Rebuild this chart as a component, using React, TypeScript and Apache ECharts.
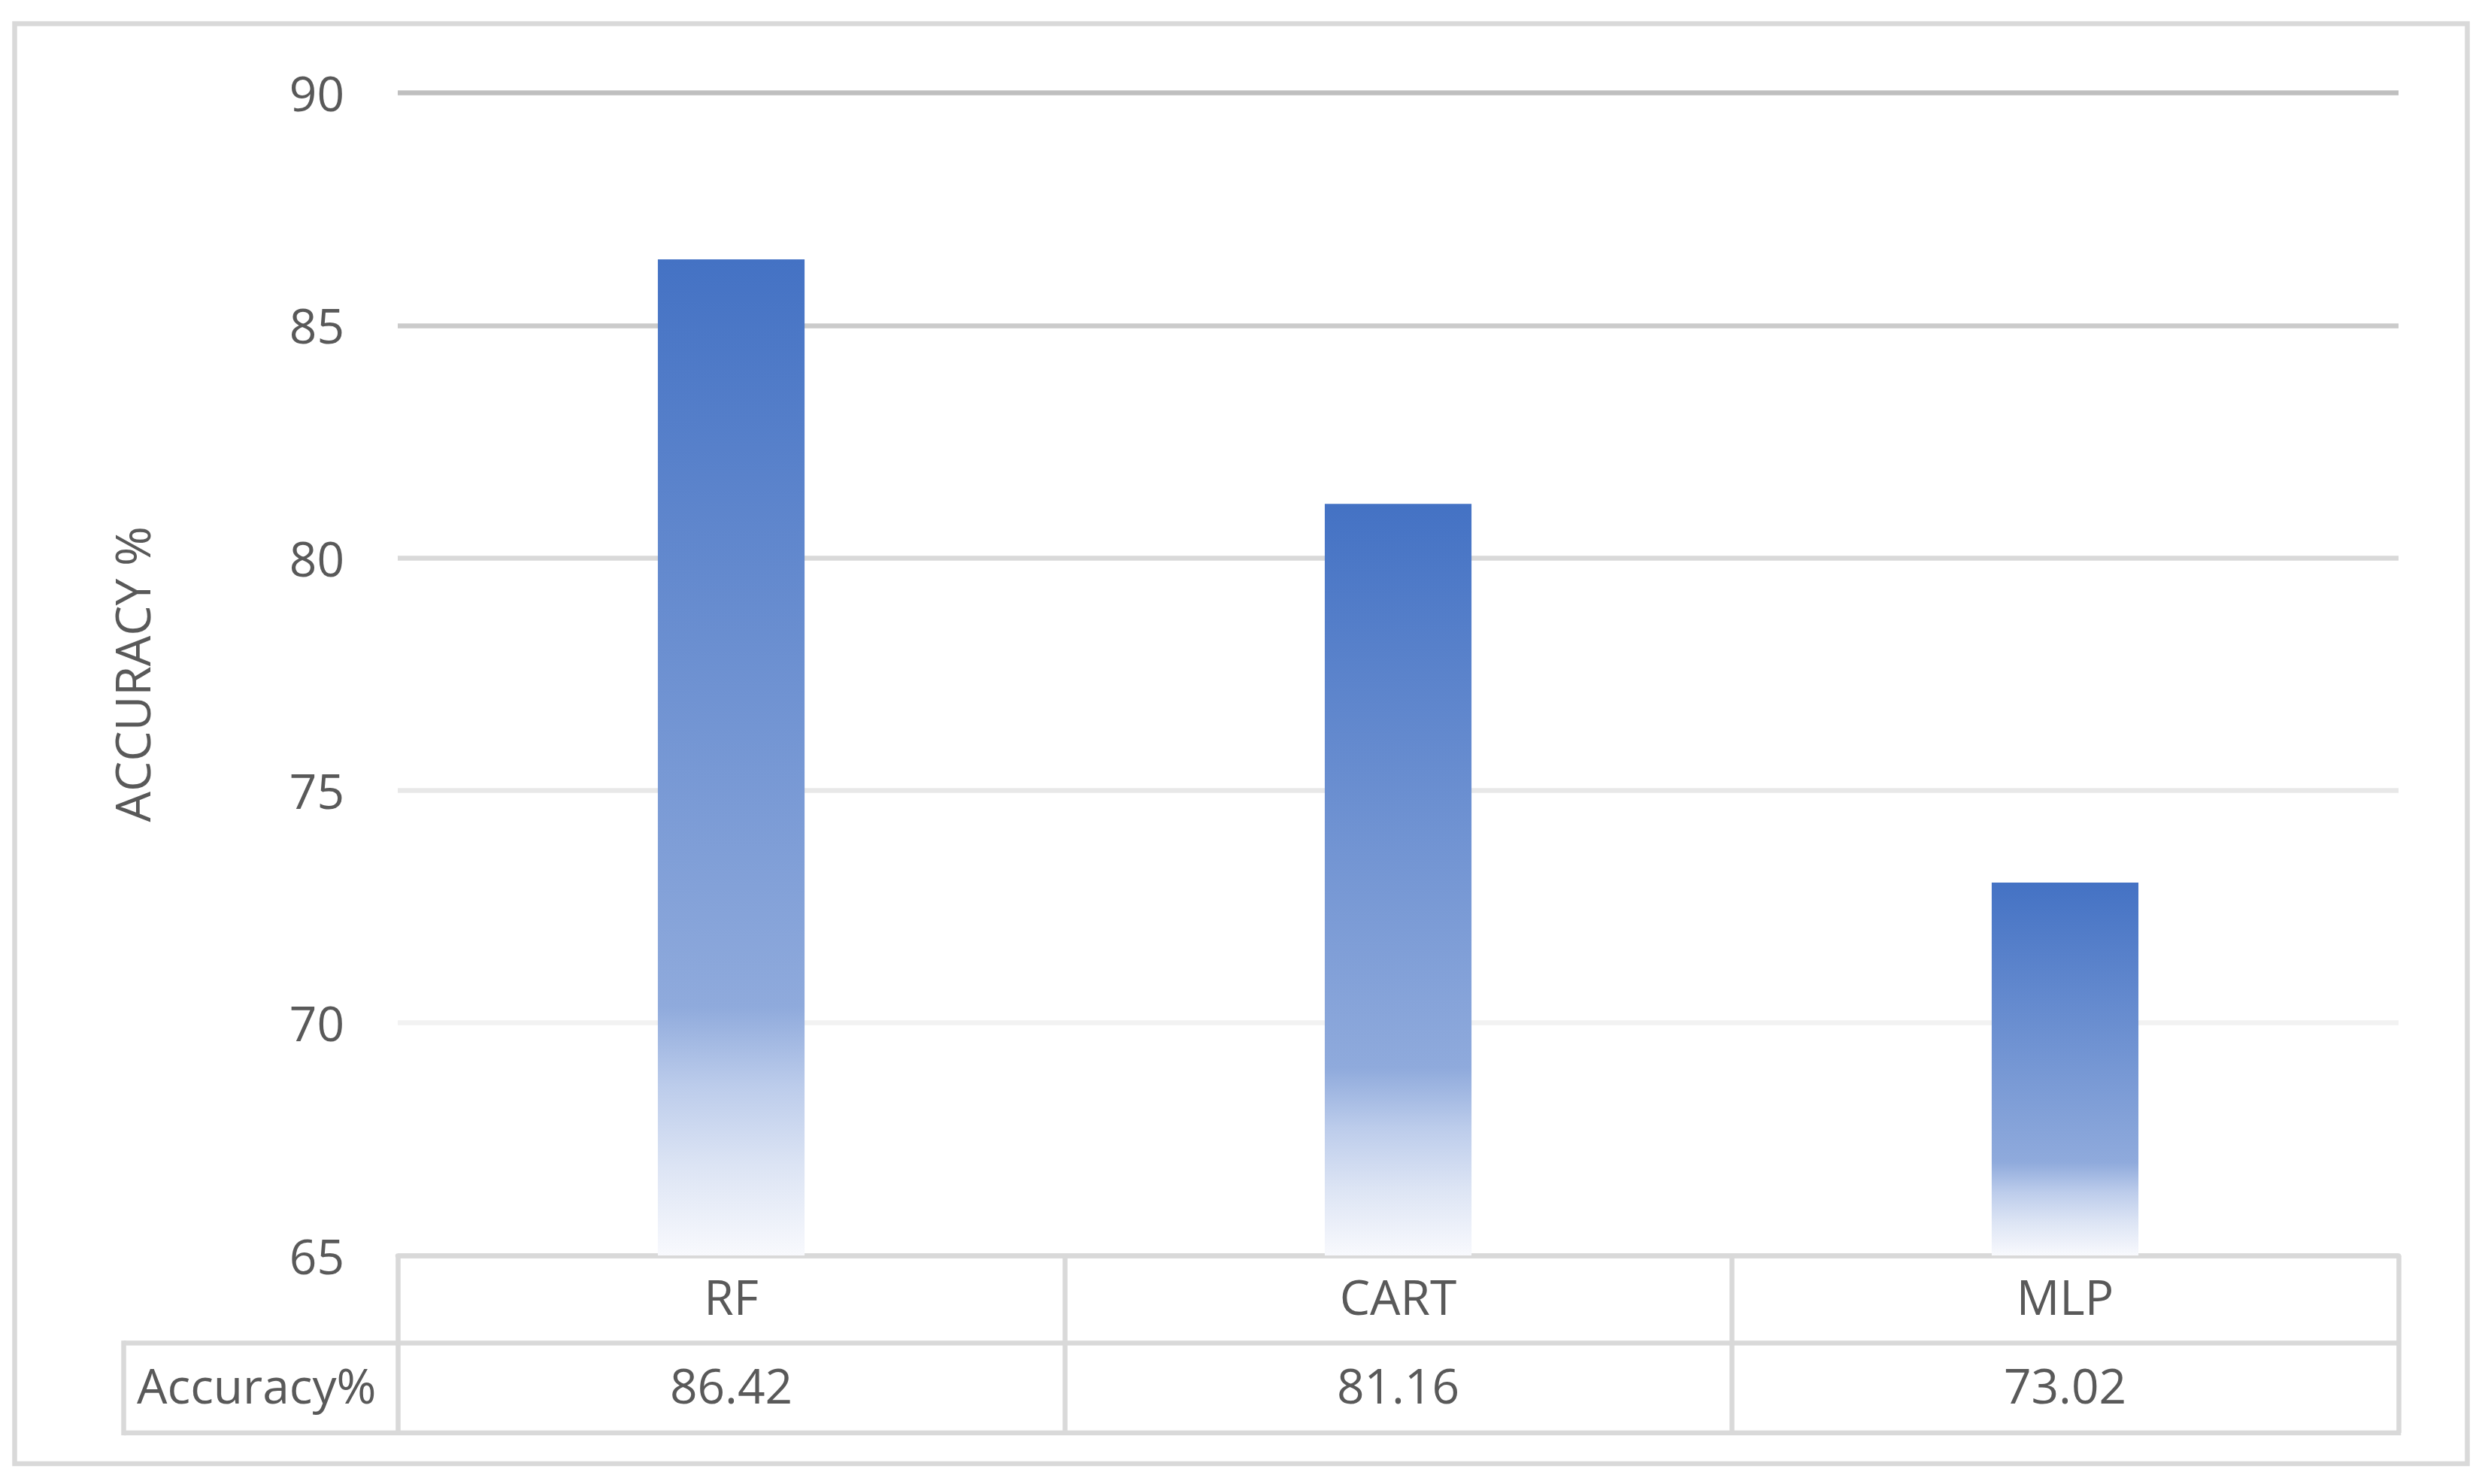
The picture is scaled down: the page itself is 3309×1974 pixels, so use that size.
import React, { useEffect, useRef } from "react";
import * as echarts from "echarts";

const categories: string[] = ["RF", "CART", "MLP"];
const accuracy: number[] = [86.42, 81.16, 73.02];
const rowLabel = "Accuracy%";
const yAxisTitle = "ACCURACY %";
const yMin = 65;
const yMax = 90;
const yStep = 5;

const W = 3309;
const H = 1974;
const FONT = "'Open Sans', 'Noto Sans', sans-serif";
const TEXT = "#595959";
const LINE = "#d9d9d9";
const LW = 6.5;

// plot and table layout
const PLOT_L = 529;
const PLOT_R = 3190;
const PLOT_T = 123.5;
const PLOT_B = 1670;
const ROW1_H = 116.5;
const ROW2_H = 119.5;
const TABLE_L = 164.5;

export default function App() {
  const ref = useRef<HTMLDivElement>(null);
  useEffect(() => {
    if (!ref.current) return;
    const chart = echarts.init(ref.current, null, { renderer: "svg" });
    const row2Top = PLOT_B + ROW1_H;
    const row2Bot = row2Top + ROW2_H;
    chart.setOption({
      animation: false,
      backgroundColor: "#ffffff",
      textStyle: { fontFamily: FONT },
      grid: {
        left: PLOT_L,
        right: W - PLOT_R,
        top: PLOT_T,
        bottom: H - PLOT_B,
        containLabel: false,
        outerBoundsMode: "none",
      },
      xAxis: [
        {
          type: "category",
          data: categories,
          position: "bottom",
          boundaryGap: true,
          axisLine: { show: true, lineStyle: { color: LINE, width: LW } },
          axisTick: { show: true, length: ROW1_H, lineStyle: { color: LINE, width: LW } },
          axisLabel: {
            color: TEXT,
            fontSize: 64,
            fontFamily: FONT,
            margin: ROW1_H / 2 - 4,
            verticalAlign: "middle",
          },
          splitLine: { show: false },
        },
        {
          type: "category",
          data: categories,
          position: "bottom",
          offset: ROW1_H,
          boundaryGap: true,
          axisLine: { show: true, lineStyle: { color: LINE, width: LW } },
          axisTick: { show: true, length: ROW2_H, lineStyle: { color: LINE, width: LW } },
          axisLabel: {
            color: TEXT,
            fontSize: 64,
            fontFamily: FONT,
            margin: ROW2_H / 2 - 4,
            verticalAlign: "middle",
            formatter: (_v: string, i: number) => accuracy[i].toFixed(2),
          },
          splitLine: { show: false },
        },
      ],
      yAxis: {
        type: "value",
        min: yMin,
        max: yMax,
        interval: yStep,
        name: yAxisTitle,
        nameLocation: "middle",
        nameRotate: 90,
        nameGap: 322,
        nameTextStyle: { color: TEXT, fontSize: 64, fontFamily: FONT },
        axisLine: { show: false },
        axisTick: { show: false },
        axisLabel: { color: TEXT, fontSize: 64, fontFamily: FONT, margin: 71 },
        splitLine: {
          show: true,
          lineStyle: {
            width: LW,
            color: ["#d9d9d9", "#f2f2f2", "#e8e8e8", "#d9d9d9", "#cbcbcb", "#bfbfbf"],
          },
        },
      },
      series: [
        {
          type: "bar",
          data: accuracy,
          xAxisIndex: 0,
          barWidth: "22%",
          itemStyle: {
            color: new echarts.graphic.LinearGradient(0, 0, 0, 1, [
              { offset: 0, color: "#4472C4" },
              { offset: 0.75, color: "#8FAADC" },
              { offset: 0.83, color: "#BCCCEB" },
              { offset: 0.91, color: "#DCE4F4" },
              { offset: 1, color: "#F8F9FD" },
            ]),
          },
        },
      ],
      graphic: [
        {
          type: "rect",
          shape: { x: 19.5, y: 31.5, width: 3281.5 - 19.5, height: 1947 - 31.5 },
          style: { fill: "none", stroke: LINE, lineWidth: LW },
          silent: true,
        },
        {
          type: "line",
          shape: { x1: TABLE_L, y1: row2Top, x2: PLOT_L, y2: row2Top },
          style: { stroke: LINE, lineWidth: LW },
          silent: true,
        },
        {
          type: "line",
          shape: { x1: TABLE_L, y1: row2Bot, x2: PLOT_R + LW / 2, y2: row2Bot },
          style: { stroke: LINE, lineWidth: LW },
          silent: true,
        },
        {
          type: "line",
          shape: { x1: TABLE_L, y1: row2Top - LW / 2, x2: TABLE_L, y2: row2Bot + LW / 2 },
          style: { stroke: LINE, lineWidth: LW },
          silent: true,
        },
        {
          type: "text",
          x: 182,
          y: (row2Top + row2Bot) / 2 - 4,
          style: {
            text: rowLabel,
            fill: TEXT,
            fontSize: 64,
            fontFamily: FONT,
            align: "left",
            verticalAlign: "middle",
          },
          silent: true,
        },
      ],
    });
    return () => chart.dispose();
  }, []);
  return (
    <div
      ref={ref}
      style={{ position: "fixed", left: 0, top: 0, width: W, height: H, background: "#fff" }}
    />
  );
}
